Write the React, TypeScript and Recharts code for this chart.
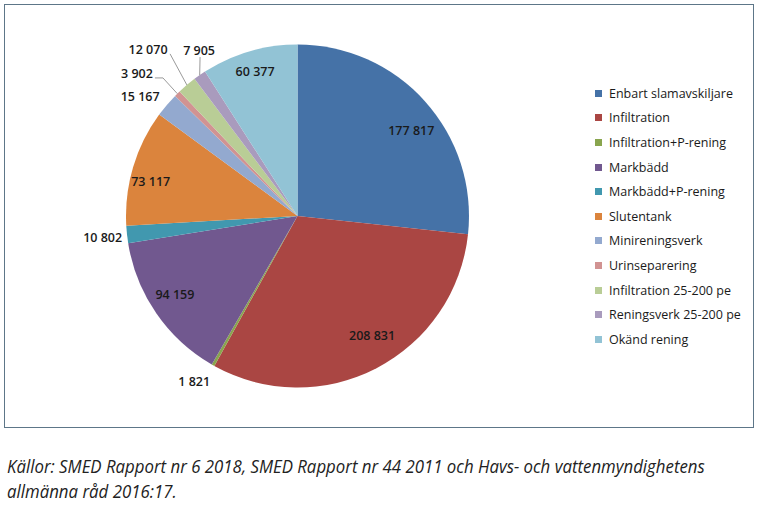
import { PieChart, Pie, Legend } from 'recharts'

const categories = [
  'Enbart slamavskiljare',
  'Infiltration',
  'Infiltration+P-rening',
  'Markbädd',
  'Markbädd+P-rening',
  'Slutentank',
  'Minireningsverk',
  'Urinseparering',
  'Infiltration 25-200 pe',
  'Reningsverk 25-200 pe',
  'Okänd rening',
]

const values = [177817, 208831, 1821, 94159, 10802, 73117, 15167, 3902, 12070, 7905, 60377]

const colors = [
  '#4572a7',
  '#aa4643',
  '#89a54e',
  '#71588f',
  '#4198af',
  '#db843d',
  '#93a9cf',
  '#d19392',
  '#b9cd96',
  '#a99bbd',
  '#92c3d5',
]

// label placement: radius as share of outer radius, angle shift in degrees (clockwise)
const labelRadius = [0.83, 0.82, 1.137, 0.85, 1.143, 0.88, 1.151, 1.25, 1.303, 1.125, 0.88]
const labelShift = [5, -4.6, 2.5, 1.8, 0, -3.1, -3.2, -4, -1.8, 4.1, 0]
// leader lines for the crowded small slices: points offset from the label centre
const leaders: Record<number, [number, number][]> = {
  7: [[18, 4], [26, 4]],
  8: [[22, 4]],
  9: [[1, 7]],
}

const data = categories.map((name, i) => ({ name, value: values[i], fill: colors[i] }))

const fmt = (v: number) => v.toLocaleString('sv-SE').replace(/\u00a0/g, ' ')

const RAD = Math.PI / 180

function renderLabel(props: any) {
  const { cx, cy, midAngle, outerRadius, index, value } = props
  const ang = (midAngle - labelShift[index]) * RAD
  const r = outerRadius * labelRadius[index]
  const x = cx + r * Math.cos(ang)
  const y = cy - r * Math.sin(ang)
  const lead = leaders[index]
  let line = null
  if (lead) {
    const ex = cx + outerRadius * Math.cos(midAngle * RAD)
    const ey = cy - outerRadius * Math.sin(midAngle * RAD)
    const pts = lead.map(([dx, dy]) => `${x + dx},${y + dy}`).concat(`${ex},${ey}`)
    line = <polyline points={pts.join(' ')} fill="none" stroke="#7f7f7f" strokeWidth={0.8} />
  }
  return (
    <g key={`lbl-${index}`}>
      {line}
      <text
        x={x}
        y={y}
        textAnchor="middle"
        dominantBaseline="central"
        fontFamily="'Open Sans', sans-serif"
        fontSize={12.5}
        fontWeight={600}
        fill="#1a1a1a"
      >
        {fmt(value)}
      </text>
    </g>
  )
}

function LegendList(props: any) {
  const items = [...(props.payload || [])].sort(
    (a: any, b: any) => categories.indexOf(a.value) - categories.indexOf(b.value)
  )
  return (
    <div style={{ fontFamily: "'Open Sans', sans-serif", fontSize: 12.5, color: '#1a1a1a' }}>
      {items.map((p: any, i: number) => (
        <div key={i} style={{ height: 24.6, display: 'flex', alignItems: 'center', whiteSpace: 'nowrap' }}>
          <span style={{ width: 7, height: 7, background: p.color, marginRight: 7, display: 'inline-block' }} />
          {p.value}
        </div>
      ))}
    </div>
  )
}

export default function App() {
  return (
    <div style={{ position: 'absolute', left: 0, top: 0, width: 760, height: 510, background: '#fff' }}>
      <div
        style={{
          position: 'absolute',
          left: 4,
          top: 4,
          width: 748,
          height: 422,
          border: '1.5px solid #5d7688',
        }}
      />
      <div style={{ position: 'absolute', left: 0, top: 0 }}>
        <PieChart width={760} height={430} margin={{ top: 0, right: 0, bottom: 0, left: 0 }}>
          <Pie
            data={data}
            dataKey="value"
            nameKey="name"
            cx={297.5}
            cy={216}
            outerRadius={171.5}
            startAngle={90}
            endAngle={-270}
            stroke="none"
            label={renderLabel}
            labelLine={false}
            isAnimationActive={false}
          />
          <Legend
            layout="vertical"
            align="right"
            verticalAlign="top"
            content={<LegendList />}
            wrapperStyle={{ left: 595, top: 81, width: 160 }}
          />
        </PieChart>
      </div>
      <div
        style={{
          position: 'absolute',
          left: 7,
          top: 454,
          width: 860,
          fontFamily: "'Open Sans', sans-serif",
          fontStyle: 'italic',
          fontSize: 19,
          lineHeight: '25px',
          color: '#222',
          transform: 'scaleX(0.885)',
          transformOrigin: 'left top',
          whiteSpace: 'nowrap',
        }}
      >
        Källor: SMED Rapport nr 6 2018, SMED Rapport nr 44 2011 och Havs- och vattenmyndighetens
        <br />
        allmänna råd 2016:17.
      </div>
    </div>
  )
}
